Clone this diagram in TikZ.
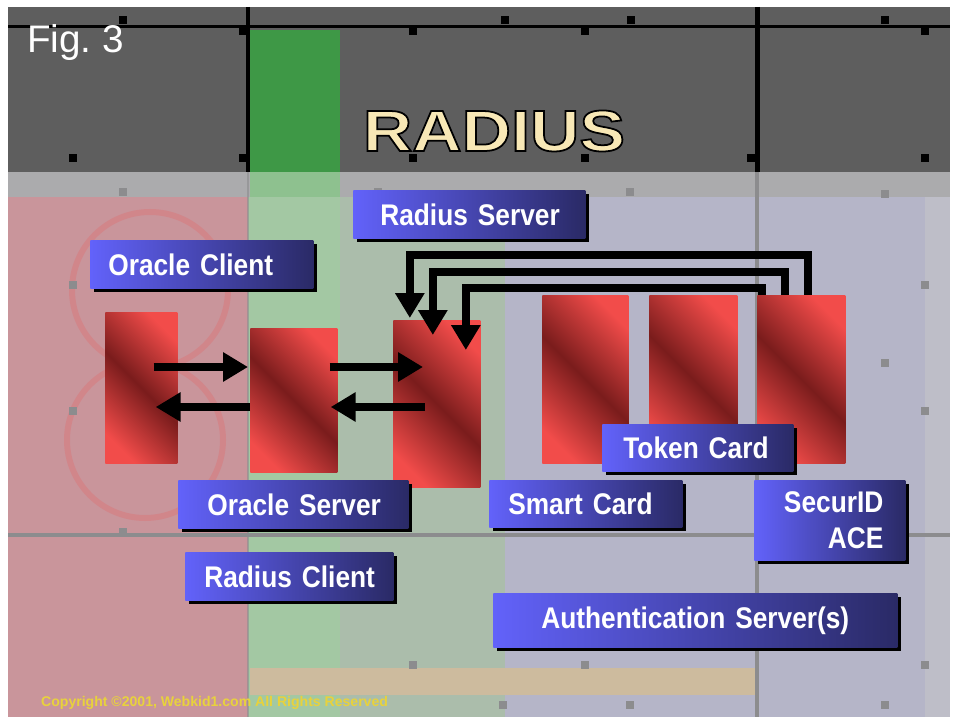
\documentclass[tikz,border=0pt]{standalone}
\usepackage{fontspec}
\setmainfont{Liberation Sans}
\newfontfamily\lblfont[FakeStretch=0.88]{Liberation Sans}
\newfontfamily\ttlfont[FakeStretch=1.18]{Liberation Sans}
\usetikzlibrary{arrows.meta,calc,shadows}
\frenchspacing

\definecolor{topgrey}{HTML}{5E5E5E}
\definecolor{greentop}{HTML}{3E9846}
\definecolor{bandgrey}{HTML}{ABABAD}
\definecolor{bandgreen}{HTML}{8EC18F}
\definecolor{pinkbg}{HTML}{C9959B}
\definecolor{greenlo}{HTML}{A3C8A3}
\definecolor{sagebg}{HTML}{ABBDAB}
\definecolor{lavbg}{HTML}{B5B5C8}
\definecolor{lightbg}{HTML}{BEBEC8}
\definecolor{tanbg}{HTML}{CDBB9E}
\definecolor{gridgrey}{HTML}{8C8C8E}
\definecolor{redhi}{HTML}{F24C4A}
\definecolor{redlo}{HTML}{7A1C1C}
\definecolor{bluehi}{HTML}{6262FA}
\definecolor{bluelo}{HTML}{2A2A66}
\definecolor{cream}{HTML}{F8E8B6}
\definecolor{copyyellow}{HTML}{E8D23C}

\pgfdeclarehorizontalshading{redband}{100bp}{color(0bp)=(redhi); color(24bp)=(redhi); color(50bp)=(redlo); color(76bp)=(redhi); color(100bp)=(redhi)}
\newcommand{\inked}[1]{\special{pdf:literal direct 2 Tr 0 0 0 RG 1 w}#1\special{pdf:literal direct 0 Tr}}

\begin{document}
\begin{tikzpicture}[x=0.02cm,y=-0.02cm,line join=miter,
  unit/.style={anchor=north west,inner sep=0pt,shading=redband,shading angle=45},
  tag/.style={anchor=north west,inner ysep=0pt,left color=bluehi,right color=bluelo,text=white,
    font=\lblfont\bfseries\fontsize{17}{20.5}\selectfont,
    drop shadow={shadow xshift=0.08cm,shadow yshift=-0.08cm,opacity=1,fill=black}},
  flow/.style={line width=0.16cm,-{Triangle[length=0.5cm,width=0.56cm]}}]
  \useasboundingbox (0,0) rectangle (958,723);
  \fill[white] (0,0) rectangle (958,723);
  % backdrop
  \fill[topgrey] (8,7) rectangle (950,172);
  \fill[greentop] (250,30) rectangle (340,172);
  \fill[bandgrey] (8,172) rectangle (950,197);
  \fill[bandgreen] (250,172) rectangle (340,197);
  \fill[pinkbg] (8,197) rectangle (248,717);
  \fill[greenlo] (248,197) rectangle (340,717);
  \fill[sagebg] (340,197) rectangle (505,717);
  \fill[lavbg] (505,197) rectangle (950,717);
  \fill[lightbg] (925,197) rectangle (950,717);
  \fill[tanbg] (250,668) rectangle (755,695);
  \foreach \c in {(150,290),(145,440)} {
    \draw[redhi,line width=0.12cm,opacity=0.2] \c circle[radius=78];
  }
  \draw[line width=0.06cm] (8,27) -- (950,27);
  \draw[line width=0.08cm] (248,7) -- (248,172);
  \draw[line width=0.1cm] (757,7) -- (757,172);
  \draw[gridgrey,line width=0.08cm] (8,535) -- (950,535);
  \draw[gridgrey,line width=0.08cm] (757,172) -- (757,717);
  \draw[gridgrey,line width=0.05cm,opacity=0.6] (248,172) -- (248,717);
  \foreach \x/\y in {123/20,243/31,413/31,505/20,585/31,631/20,885/20,925/31,73/158,243/158,413/158,585/158,751/158,925/158} {
    \fill[black] ({\x-4},{\y-4}) rectangle ++(8,8);
  }
  \foreach \x/\y in {123/192,378/192,630/192,885/194,73/285,925/285,73/411,885/363,925/411,123/532,413/665,585/665,925/665,503/705,630/705,885/705} {
    \fill[gridgrey] ({\x-4},{\y-4}) rectangle ++(8,8);
  }
  % heading
  \node[anchor=base west,text=white,font=\fontsize{22}{24}\selectfont] (fig) at (21,53) {Fig. 3};
  \node[text=cream,font=\ttlfont\bfseries\fontsize{33}{36}\selectfont] (ttl) at (494,131) {\inked{RADIUS}};
  % machines
  \node[unit,minimum width=1.44cm,minimum height=3.02cm] (client) at (105,312) {};
  \node[unit,minimum width=1.74cm,minimum height=2.88cm] (oserver) at (250,328) {};
  \node[unit,minimum width=1.74cm,minimum height=3.34cm] (rserver) at (393,320) {};
  \node[unit,minimum width=1.72cm,minimum height=3.36cm] (smart) at (542,295) {};
  \node[unit,minimum width=1.76cm,minimum height=3.36cm] (token) at (649,295) {};
  \node[unit,minimum width=1.76cm,minimum height=3.36cm] (securid) at (757,295) {};
  % labels
  \node[tag,inner xsep=0.54cm,text width=3.56cm,align=left,minimum height=0.96cm] (lrserver) at (353,190) {Radius~Server};
  \node[tag,inner xsep=0.36cm,text width=3.74cm,align=left,minimum height=0.96cm] (lclient) at (90,240) {Oracle~Client};
  \node[tag,inner xsep=0.58cm,text width=3.44cm,align=left,minimum height=0.96cm] (loserver) at (178,480) {Oracle~Server};
  \node[tag,inner xsep=0.38cm,text width=3.40cm,align=left,minimum height=0.96cm] (lrclient) at (185,552) {Radius~Client};
  \node[tag,inner xsep=0.42cm,text width=2.98cm,align=left,minimum height=0.94cm] (ltoken) at (602,424) {Token~Card};
  \node[tag,inner xsep=0.38cm,text width=3.10cm,align=left,minimum height=0.94cm] (lsmart) at (489,480) {Smart~Card};
  \node[tag,inner xsep=0.44cm,text width=2.14cm,align=right,minimum height=1.60cm] (lsecurid) at (754,480) {SecurID\\ACE};
  \node[tag,inner xsep=0.20cm,text width=7.68cm,align=center,minimum height=1.08cm] (lauth) at (493,593) {Authentication~Server(s)};
  % traffic
  \coordinate (fwd) at (0,367);
  \coordinate (back) at (0,407);
  \draw[flow] ($(client.east |- fwd)+(-24,0)$) -- ($(oserver.west |- fwd)+(-2,0)$);
  \draw[flow] (oserver.west |- back) -- ($(client.east |- back)+(-22,0)$);
  \draw[flow] ($(oserver.east |- fwd)+(-8,0)$) -- ($(rserver.west |- fwd)+(30,0)$);
  \draw[flow] ($(rserver.west |- back)+(32,0)$) -- ($(oserver.east |- back)+(-7,0)$);
  \draw[flow] ($(securid.north)+(7,0)$) -- ++(0,-40) -| ($(rserver.north)+(-27,-2)$);
  \draw[flow] ($(securid.north)+(-16,0)$) -- ++(0,-23) -| ($(rserver.north)+(-4,15)$);
  \draw[flow] ($(securid.north)+(-39,0)$) -- ++(0,-7) -| ($(rserver.north)+(29,30)$);
  \node[anchor=west,text=copyyellow,font=\bfseries\fontsize{8}{9}\selectfont] (copy) at (35,703) {Copyright \textcopyright 2001, Webkid1.com All Rights Reserved};
\end{tikzpicture}
\end{document}
